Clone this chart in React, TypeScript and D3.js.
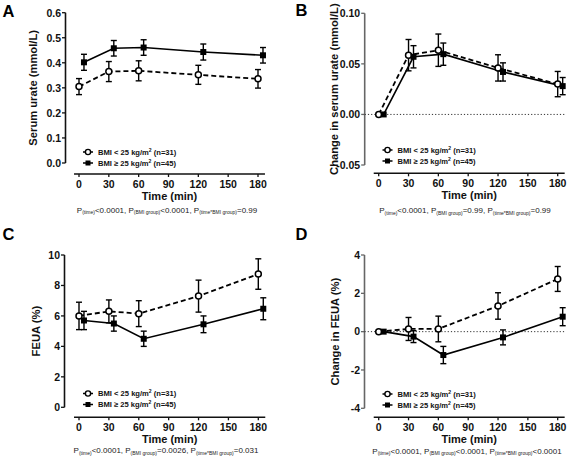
import React from "react";
import * as d3 from "d3";

// ---- data ----
const times = [0, 30, 60, 120, 180];
const xTicks = [0, 30, 60, 90, 120, 150, 180];

const aLowMean = [0.305, 0.365, 0.368, 0.352, 0.336];
const aLowErr = [0.032, 0.04, 0.04, 0.038, 0.037];
const aHighMean = [0.402, 0.458, 0.461, 0.443, 0.43];
const aHighErr = [0.032, 0.031, 0.031, 0.032, 0.031];
const aTicks = [0, 0.1, 0.2, 0.3, 0.4, 0.5, 0.6];

const bLowMean = [0, 0.0586, 0.0635, 0.046, 0.03];
const bLowErr = [0, 0.0155, 0.016, 0.013, 0.0125];
const bHighMean = [0, 0.057, 0.0596, 0.042, 0.028];
const bHighErr = [0, 0.011, 0.011, 0.009, 0.0085];
const bTicks = [-0.05, 0, 0.05, 0.1];

const cLowMean = [6.0, 6.3, 6.15, 7.3, 8.75];
const cLowErr = [0.9, 0.75, 0.85, 1.05, 1.0];
const cHighMean = [5.7, 5.5, 4.5, 5.45, 6.47];
const cHighErr = [0.6, 0.5, 0.5, 0.55, 0.72];
const cTicks = [0, 2, 4, 6, 8, 10];

const dLowMean = [0, 0.14, 0.14, 1.34, 2.75];
const dLowErr = [0, 0.6, 0.67, 0.69, 0.65];
const dHighMean = [0, -0.26, -1.22, -0.3, 0.78];
const dHighErr = [0, 0.31, 0.45, 0.39, 0.47];
const dTicks = [-4, -2, 0, 2, 4];

const legendLow = "BMI < 25 kg/m";
const legendLowN = " (n=31)";
const legendHigh = "BMI \u2265 25 kg/m";
const legendHighN = " (n=45)";

const FONT = "'Liberation Sans', Arial, Helvetica, sans-serif";

type PanelProps = {
  letter: string;
  letterX: number;
  letterY: number;
  xRange: [number, number]; // pixel of 0 min and 180 min
  yDomain: [number, number];
  yRange: [number, number];
  yTicks: number[];
  yFmt: (v: number) => string;
  axisX: number;
  xAxisY: number;
  yAxisColor: string;
  yTitle: string;
  yTitleX: number;
  lowMean: number[];
  lowErr: number[];
  highMean: number[];
  highErr: number[];
  zeroLine: boolean;
  legendX: number;
  legendY: number;
  pX: number;
  pY: number;
  pBmi: string;
  pInt: string;
};

const OFFSET = 5; // Prism horizontal offset for the second group

function Panel(p: PanelProps) {
  const x = d3.scaleLinear().domain([0, 180]).range(p.xRange);
  const y = d3.scaleLinear().domain(p.yDomain).range(p.yRange);
  const lowPts = times.map((t, i) => [t, p.lowMean[i], p.lowErr[i]] as [number, number, number]);
  const highPts = times.map((t, i) => [t + OFFSET, p.highMean[i], p.highErr[i]] as [number, number, number]);
  const line = d3
    .line<[number, number, number]>()
    .x((d) => x(d[0]))
    .y((d) => y(d[1]));
  const cap = 3;
  const errBars = (pts: [number, number, number][], key: string) =>
    pts
      .filter((d) => d[2] > 0)
      .map((d, i) => {
        const cx = x(d[0]);
        const y1 = y(d[1] + d[2]);
        const y2 = y(d[1] - d[2]);
        return (
          <g key={key + i} stroke="#000" strokeWidth={1.4}>
            <line x1={cx} x2={cx} y1={y1} y2={y2} />
            <line x1={cx - cap} x2={cx + cap} y1={y1} y2={y1} />
            <line x1={cx - cap} x2={cx + cap} y1={y2} y2={y2} />
          </g>
        );
      });
  const yMid = (p.yRange[0] + p.yRange[1]) / 2;
  const xL = x(-5);
  const xR = x(187);
  const xMid = (xL + xR) / 2;
  const lx = p.legendX;
  const ly = p.legendY;
  return (
    <g fontFamily={FONT}>
      <text x={p.letterX} y={p.letterY} fontSize={16.5} fontWeight="bold">
        {p.letter}
      </text>
      {/* y axis */}
      <line x1={p.axisX} x2={p.axisX} y1={y(p.yDomain[1])} y2={y(p.yDomain[0])} stroke={p.yAxisColor} strokeWidth={1.6} />
      {p.yTicks.map((t) => (
        <g key={"yt" + t}>
          <line x1={p.axisX - 3.5} x2={p.axisX} y1={y(t)} y2={y(t)} stroke={p.yAxisColor} strokeWidth={1.3} />
          <text x={p.axisX - 4.5} y={y(t) + 3.8} fontSize={10.5} fontWeight="bold" textAnchor="end" fill="#111">
            {p.yFmt(t)}
          </text>
        </g>
      ))}
      <text
        transform={`translate(${p.yTitleX},${yMid}) rotate(-90)`}
        fontSize={11.2}
        fontWeight="bold"
        textAnchor="middle"
        fill="#111"
      >
        {p.yTitle}
      </text>
      {/* x axis */}
      <line x1={xL} x2={xR} y1={p.xAxisY} y2={p.xAxisY} stroke="#111" strokeWidth={1.5} />
      {xTicks.map((t) => (
        <g key={"xt" + t}>
          <line x1={x(t)} x2={x(t)} y1={p.xAxisY} y2={p.xAxisY + 3} stroke="#111" strokeWidth={1.3} />
          <text x={x(t)} y={p.xAxisY + 14} fontSize={10.5} fontWeight="bold" textAnchor="middle" fill="#111">
            {t}
          </text>
        </g>
      ))}
      <text x={xMid} y={p.xAxisY + 26} fontSize={11} fontWeight="bold" textAnchor="middle" fill="#111">
        Time (min)
      </text>
      {/* zero reference */}
      {p.zeroLine && (
        <line x1={p.axisX} x2={xR} y1={y(0)} y2={y(0)} stroke="#333" strokeWidth={1} strokeDasharray="1.2,2" />
      )}
      {/* error bars */}
      {errBars(lowPts, "le")}
      {errBars(highPts, "he")}
      {/* lines */}
      <path d={line(lowPts) || ""} fill="none" stroke="#000" strokeWidth={1.8} strokeDasharray="5,3" />
      <path d={line(highPts) || ""} fill="none" stroke="#000" strokeWidth={1.6} />
      {/* markers */}
      {lowPts.map((d, i) => (
        <circle key={"lc" + i} cx={x(d[0])} cy={y(d[1])} r={3} fill="#fff" stroke="#000" strokeWidth={1.5} />
      ))}
      {highPts.map((d, i) => (
        <rect key={"hr" + i} x={x(d[0]) - 3} y={y(d[1]) - 3} width={6} height={6} fill="#000" />
      ))}
      {/* legend */}
      <g fontSize={7.6} fontWeight="bold" fill="#111">
        <line x1={lx} x2={lx + 10} y1={ly} y2={ly} stroke="#000" strokeWidth={1.5} />
        <circle cx={lx + 5} cy={ly} r={2.6} fill="#fff" stroke="#000" strokeWidth={1.4} />
        <text x={lx + 15} y={ly + 2.7}>
          {legendLow}
          <tspan fontSize={5} dy={-3}>2</tspan>
          <tspan dy={3}>{legendLowN}</tspan>
        </text>
        <line x1={lx} x2={lx + 10} y1={ly + 11} y2={ly + 11} stroke="#000" strokeWidth={1.5} />
        <rect x={lx + 2.5} y={ly + 11 - 2.5} width={5} height={5} fill="#000" />
        <text x={lx + 15} y={ly + 13.7}>
          {legendHigh}
          <tspan fontSize={5} dy={-3}>2</tspan>
          <tspan dy={3}>{legendHighN}</tspan>
        </text>
      </g>
      {/* p values */}
      <text x={p.pX} y={p.pY} fontSize={8} textAnchor="middle" fill="#222">
        P<tspan fontSize={5} dy={1.5}>(time)</tspan>
        <tspan dy={-1.5}>{"<0.0001, P"}</tspan>
        <tspan fontSize={5} dy={1.5}>(BMI group)</tspan>
        <tspan dy={-1.5}>{p.pBmi + ", P"}</tspan>
        <tspan fontSize={5} dy={1.5}>(time*BMI group)</tspan>
        <tspan dy={-1.5}>{p.pInt}</tspan>
      </text>
    </g>
  );
}

export default function App() {
  return (
    <svg
      width={567}
      height={461}
      style={{ position: "absolute", left: 0, top: 0, background: "#fff" }}
    >
      <rect width={567} height={461} fill="#fff" />
      <Panel
        letter="A"
        letterX={2.5}
        letterY={16.7}
        xRange={[79, 258]}
        yDomain={[0, 0.6]}
        yRange={[163, 12.7]}
        yTicks={aTicks}
        yFmt={(v) => v.toFixed(1)}
        axisX={65.5}
        xAxisY={174}
        yAxisColor="#111"
        yTitle="Serum urate (mmol/L)"
        yTitleX={36.5}
        lowMean={aLowMean}
        lowErr={aLowErr}
        highMean={aHighMean}
        highErr={aHighErr}
        zeroLine={false}
        legendX={83}
        legendY={152}
        pX={167}
        pY={212.5}
        pBmi="<0.0001"
        pInt="=0.99"
      />
      <Panel
        letter="B"
        letterX={295.5}
        letterY={16}
        xRange={[378.7, 557.7]}
        yDomain={[-0.05, 0.1]}
        yRange={[165, 13.3]}
        yTicks={bTicks}
        yFmt={(v) => v.toFixed(2)}
        axisX={364.7}
        xAxisY={173.3}
        yAxisColor="#666"
        yTitle="Change in serum urate (mmol/L)"
        yTitleX={337.5}
        lowMean={bLowMean}
        lowErr={bLowErr}
        highMean={bHighMean}
        highErr={bHighErr}
        zeroLine={true}
        legendX={382.5}
        legendY={150}
        pX={465}
        pY={213}
        pBmi="=0.99"
        pInt="=0.99"
      />
      <Panel
        letter="C"
        letterX={2.5}
        letterY={239.5}
        xRange={[79, 258.3]}
        yDomain={[0, 10]}
        yRange={[407.3, 255]}
        yTicks={cTicks}
        yFmt={(v) => String(v)}
        axisX={64.5}
        xAxisY={417.3}
        yAxisColor="#111"
        yTitle="FEUA (%)"
        yTitleX={40}
        lowMean={cLowMean}
        lowErr={cLowErr}
        highMean={cHighMean}
        highErr={cHighErr}
        zeroLine={false}
        legendX={83}
        legendY={393.5}
        pX={166}
        pY={453}
        pBmi="=0.0026"
        pInt="=0.031"
      />
      <Panel
        letter="D"
        letterX={295.5}
        letterY={240}
        xRange={[378.7, 557.7]}
        yDomain={[-4, 4]}
        yRange={[408.3, 255]}
        yTicks={dTicks}
        yFmt={(v) => String(v)}
        axisX={364.5}
        xAxisY={417.3}
        yAxisColor="#666"
        yTitle="Change in FEUA (%)"
        yTitleX={338.5}
        lowMean={dLowMean}
        lowErr={dLowErr}
        highMean={dHighMean}
        highErr={dHighErr}
        zeroLine={true}
        legendX={382.5}
        legendY={394}
        pX={467}
        pY={453.5}
        pBmi="<0.0001"
        pInt="<0.0001"
      />
    </svg>
  );
}
